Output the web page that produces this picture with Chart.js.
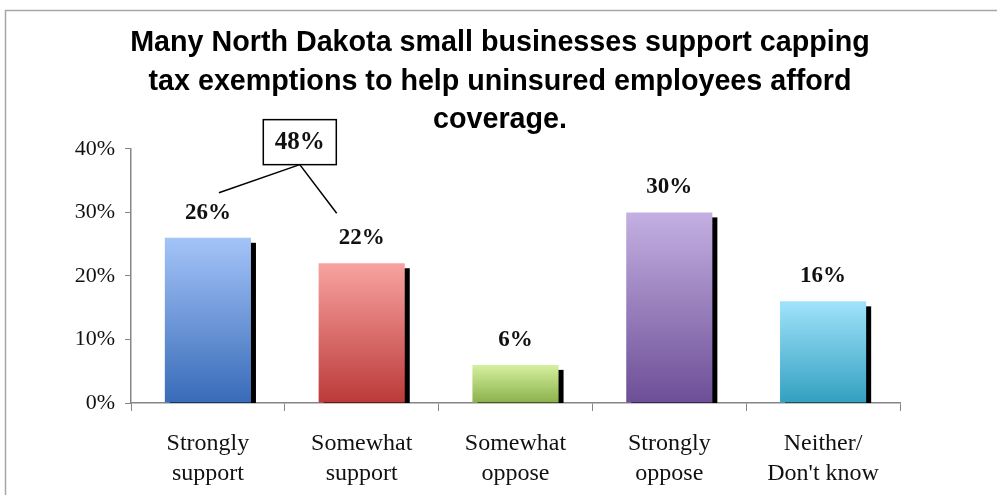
<!DOCTYPE html>
<html>
<head>
<meta charset="utf-8">
<script src="https://cdn.jsdelivr.net/npm/chart.js@4.4.1/dist/chart.umd.min.js"></script>
<style>
  html, body { margin: 0; padding: 0; background: #fff; }
  #wrap { width: 997px; height: 495px; }
</style>
</head>
<body>
<div id="wrap"><canvas id="surveyChart" width="997" height="495"></canvas></div>
<script>
// survey answers
const categories = [
  ["Strongly", "support"],
  ["Somewhat", "support"],
  ["Somewhat", "oppose"],
  ["Strongly", "oppose"],
  ["Neither/", "Don't know"]
];
const shares = [26, 22, 6, 30, 16];
const yTicks = [0, 10, 20, 30, 40];
const combinedSupport = 48; // strongly + somewhat support

const topColors = ["#a4c4f8", "#f8a3a1", "#d5f0a0", "#c4b0e2", "#a0e3fb"];
const bottomColors = ["#386bb8", "#bb3a38", "#8bb14a", "#6c4e96", "#32a0c0"];

function barGradient(ctx) {
  const chart = ctx.chart;
  const y = chart.scales.y;
  if (!chart.chartArea || !y) return topColors[ctx.dataIndex];
  const top = y.getPixelForValue(ctx.raw);
  const base = y.getPixelForValue(0);
  const g = chart.ctx.createLinearGradient(0, top, 0, base);
  g.addColorStop(0, topColors[ctx.dataIndex]);
  g.addColorStop(1, bottomColors[ctx.dataIndex]);
  return g;
}

// frame, bar shadows, value labels and the 48% callout
const extras = {
  id: "extras",
  beforeDraw(chart) {
    const c = chart.ctx;
    c.save();
    c.fillStyle = "#fff";
    c.fillRect(0, 0, chart.width, chart.height);
    c.strokeStyle = "#a6a6a6";
    c.lineWidth = 1.5;
    c.strokeRect(5.5, 10.5, chart.width + 10, chart.height + 10);
    c.restore();
  },
  beforeDatasetsDraw(chart) {
    const c = chart.ctx;
    const base = chart.scales.y.getPixelForValue(0);
    c.save();
    c.fillStyle = "#000";
    chart.getDatasetMeta(0).data.forEach(bar => {
      const left = bar.x - bar.width / 2 + 5;
      const top = bar.y + 5;
      c.fillRect(left, top, bar.width, base - top);
    });
    c.restore();
  },
  afterDatasetsDraw(chart) {
    const c = chart.ctx;
    const bars = chart.getDatasetMeta(0).data;
    c.save();
    c.fillStyle = "#111";
    c.textAlign = "center";
    c.textBaseline = "middle";
    c.font = "bold 23px 'Liberation Serif'";
    bars.forEach((bar, i) => {
      c.fillText(shares[i] + "%", bar.x, bar.y - 25);
    });

    // callout box joining the two support bars
    const y = chart.scales.y;
    const bx = (bars[0].x + bars[1].x) / 2 + 15;
    const boxTop = y.getPixelForValue(44.6);
    const boxBottom = boxTop + 45;
    c.strokeStyle = "#000";
    c.lineWidth = 1.5;
    c.strokeRect(bx - 36.5, boxTop, 73, 45);
    c.beginPath();
    c.moveTo(bx, boxBottom);
    c.lineTo(bars[0].x + 11, bars[0].y - 45);
    c.moveTo(bx, boxBottom);
    c.lineTo(bars[1].x - 25, bars[1].y - 50);
    c.stroke();
    c.font = "bold 25px 'Liberation Serif'";
    c.fillText(combinedSupport + "%", bx, boxTop + 23);
    c.restore();
  }
};

new Chart(document.getElementById("surveyChart"), {
  type: "bar",
  data: {
    labels: categories,
    datasets: [{
      data: shares,
      backgroundColor: barGradient,
      borderWidth: 0,
      categoryPercentage: 1,
      barPercentage: 0.56
    }]
  },
  options: {
    responsive: false,
    animation: false,
    // symmetric side padding keeps the title centred on the page
    layout: { padding: { left: 67, right: 64, top: 0, bottom: 0 } },
    plugins: {
      legend: { display: false },
      tooltip: { enabled: false },
      title: {
        display: true,
        text: [
          "Many North Dakota small businesses support capping",
          "tax exemptions to help uninsured employees afford",
          "coverage."
        ],
        color: "#000",
        font: { family: "'Liberation Sans'", size: 28.7, weight: "bold", lineHeight: 1.34 },
        padding: { top: 24, bottom: 9.5 }
      }
    },
    scales: {
      x: {
        afterFit(axis) { axis.height = 92; },
        grid: { offset: true, drawOnChartArea: false, tickLength: 8, color: "#868686" },
        border: { color: "#868686", width: 1.5 },
        ticks: {
          color: "#111",
          padding: 17,
          maxRotation: 0,
          font: { family: "'Liberation Serif'", size: 24, lineHeight: 1.28 }
        }
      },
      y: {
        min: 0,
        max: 40,
        afterBuildTicks(axis) { axis.ticks = yTicks.map(v => ({ value: v })); },
        afterFit(axis) { axis.width = 64; },
        grid: { drawOnChartArea: false, tickLength: 6, color: "#868686" },
        border: { color: "#868686", width: 1.5 },
        ticks: {
          color: "#111",
          padding: 10,
          callback: v => v + "%",
          font: { family: "'Liberation Serif'", size: 22 }
        }
      },
      // empty strip on the right, so the plot ends where the original does
      gap: {
        type: "linear",
        position: "right",
        min: 0,
        max: 1,
        afterFit(axis) { axis.width = 33; },
        grid: { display: false },
        border: { display: false },
        ticks: { display: false }
      }
    }
  },
  plugins: [extras]
});
</script>
</body>
</html>
